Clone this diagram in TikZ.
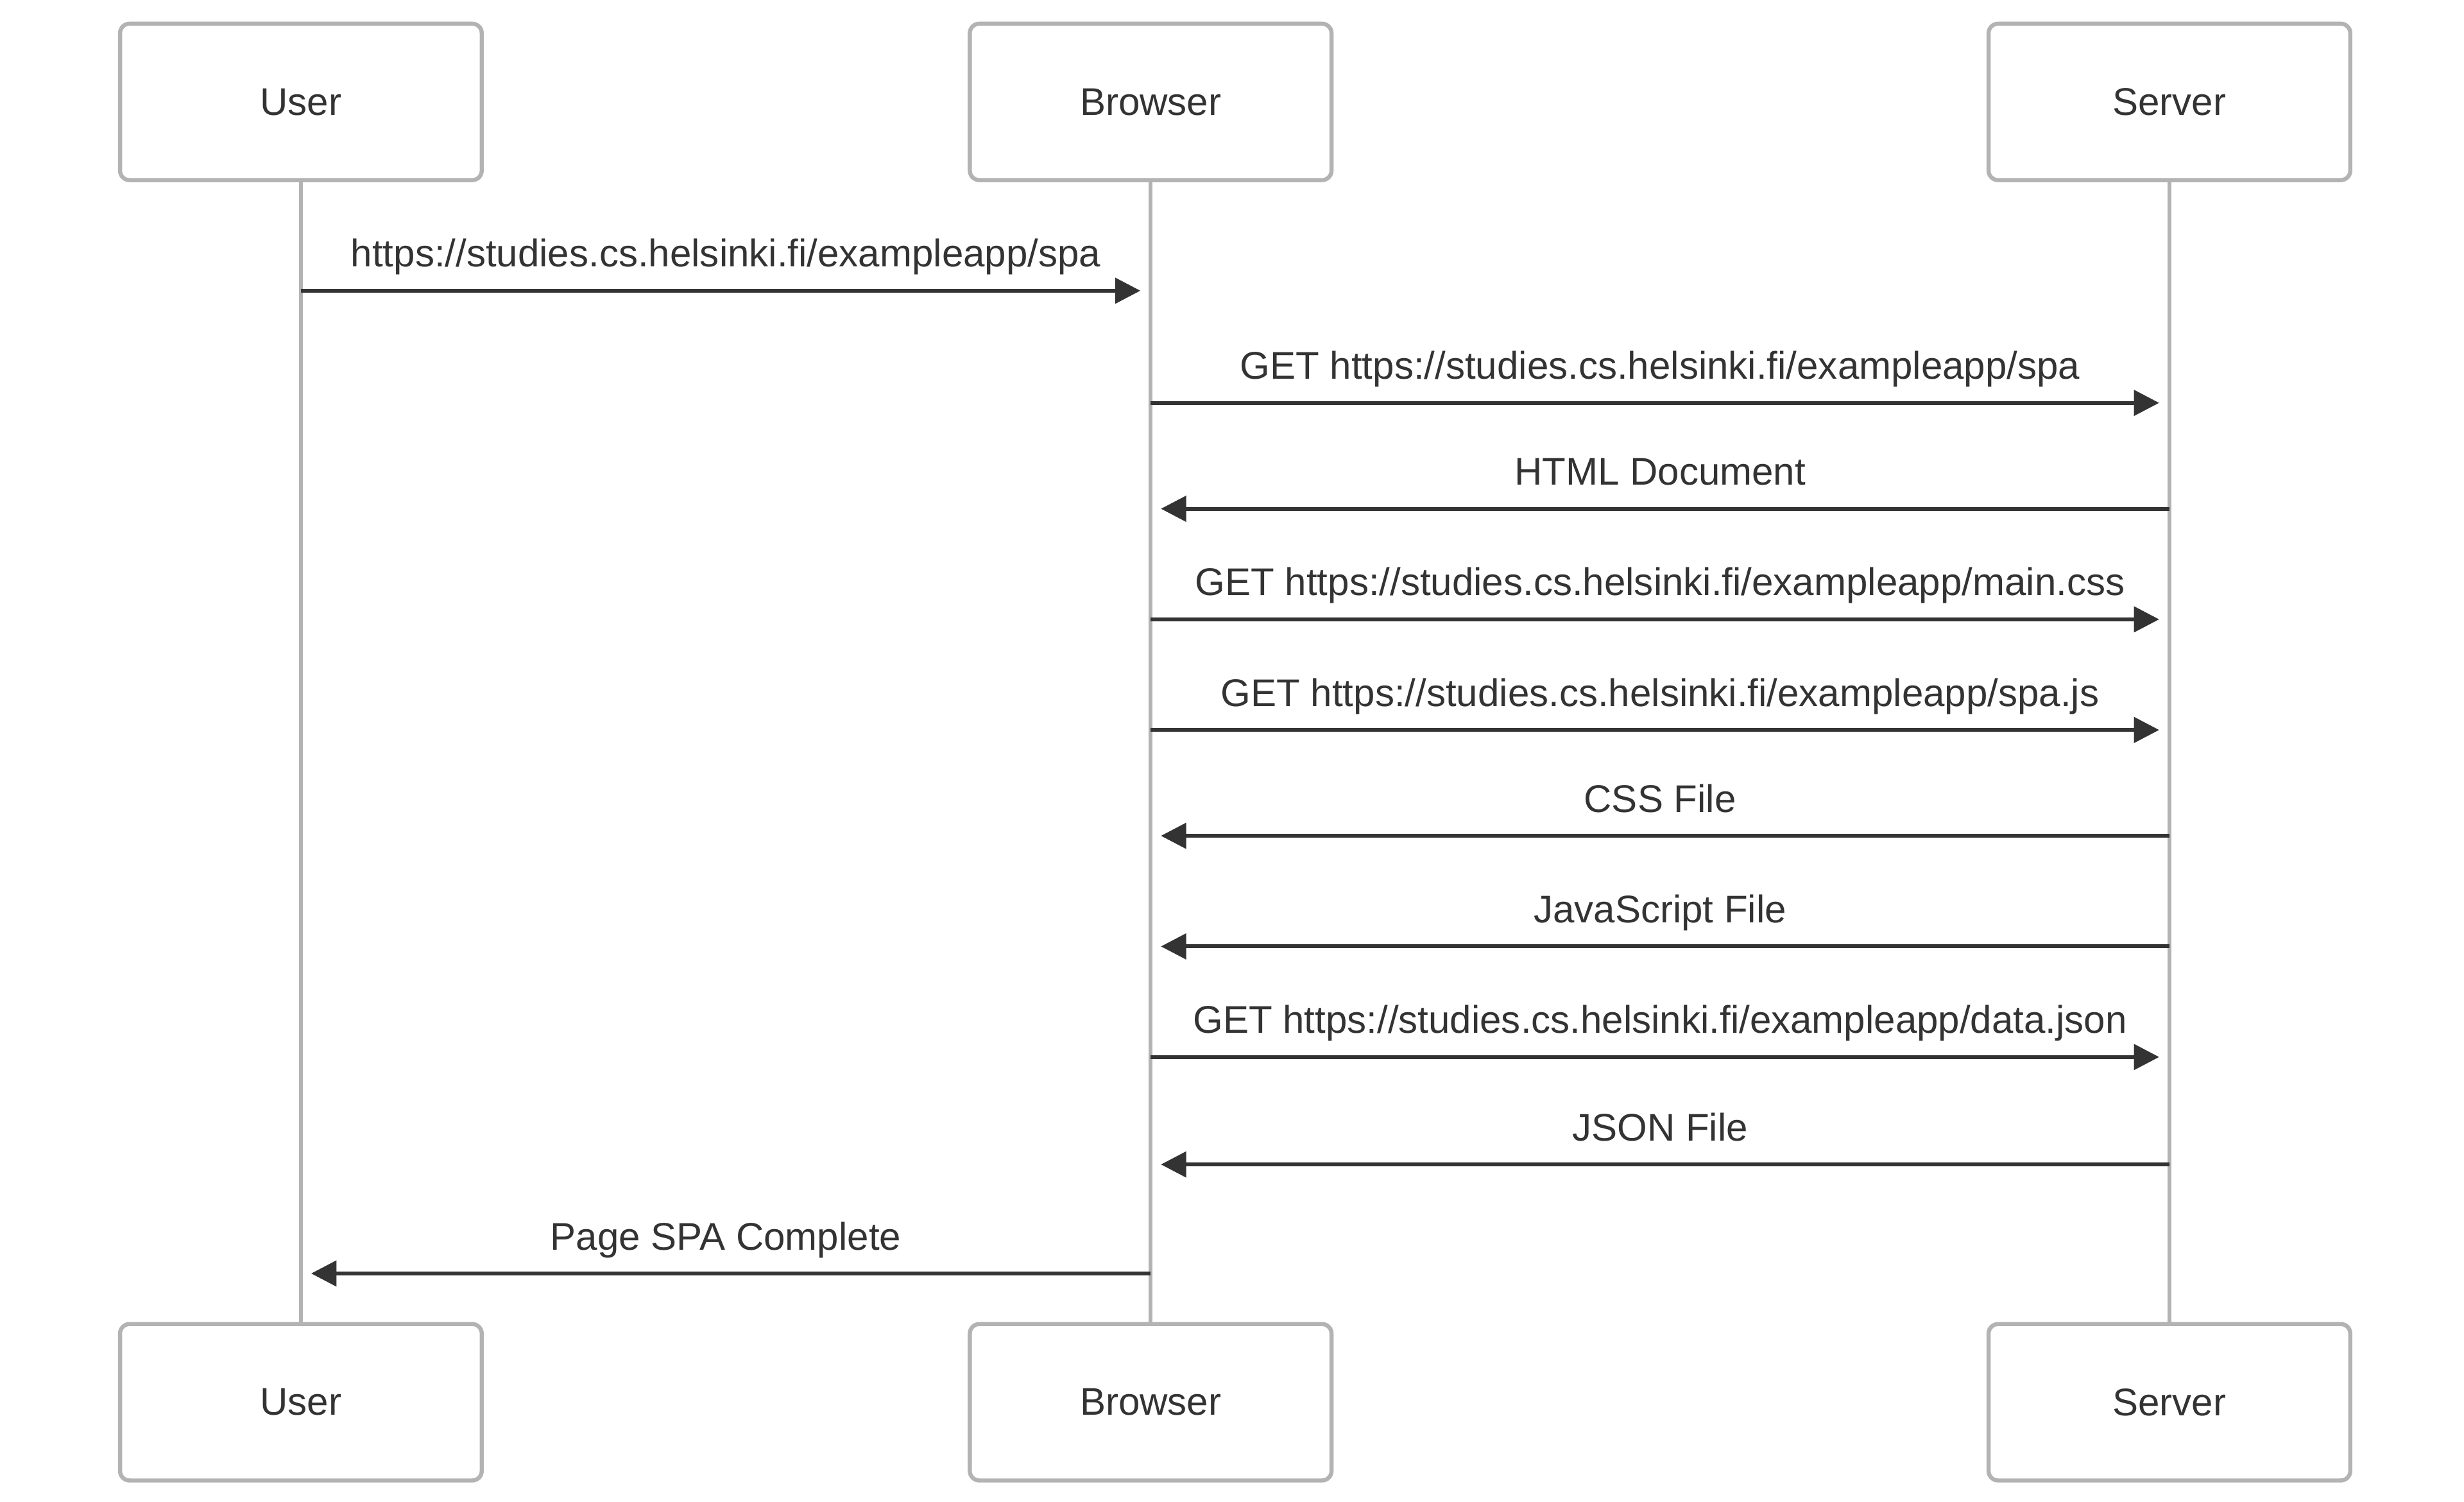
\documentclass[tikz,border=0pt]{standalone}
\usepackage{fontspec}
\setmainfont{Liberation Sans}
\usetikzlibrary{arrows.meta}
\definecolor{boxgray}{HTML}{B3B3B3}
\definecolor{ink}{HTML}{333333}

\begin{document}
\begin{tikzpicture}[x=0.5pt,y=-0.5pt,>={Triangle[length=8pt,width=8pt]},
        font=\fontsize{12.2}{14}\selectfont,text=ink]
            \tikzstyle{actor} = [draw=boxgray,line width=1.3pt,rounded corners=3pt,fill=white,
                minimum width=114.5pt,minimum height=49.5pt];
            \tikzstyle{lifeline} = [draw=boxgray,line width=1.2pt];
            \tikzstyle{msg} = [->,draw=ink,line width=1.2pt,shorten >=3.25pt];
            \tikzstyle{lbl} = [anchor=base,yshift=7.5pt,inner sep=0pt];
            \useasboundingbox (0,0) rectangle (1560,950.6);
            \node[actor] (utop) at (190.5,64.5) {User};
            \node[actor] (btop) at (728.5,64.5) {Browser};
            \node[actor] (stop) at (1373.5,64.5) {Server};
            \node[actor] (ubot) at (190.5,887.5) {User};
            \node[actor] (bbot) at (728.5,887.5) {Browser};
            \node[actor] (sbot) at (1373.5,887.5) {Server};
            \draw[lifeline] (utop) -- (ubot);
            \draw[lifeline] (btop) -- (bbot);
            \draw[lifeline] (stop) -- (sbot);
            \draw[msg] (utop |- 0,184) -- node[lbl] {https://studies.cs.helsinki.fi/exampleapp/spa} (btop |- 0,184);
            \draw[msg] (btop |- 0,255) -- node[lbl] {GET https://studies.cs.helsinki.fi/exampleapp/spa} (stop |- 0,255);
            \draw[msg] (stop |- 0,322) -- node[lbl] {HTML Document} (btop |- 0,322);
            \draw[msg] (btop |- 0,392) -- node[lbl] {GET https://studies.cs.helsinki.fi/exampleapp/main.css} (stop |- 0,392);
            \draw[msg] (btop |- 0,462) -- node[lbl] {GET https://studies.cs.helsinki.fi/exampleapp/spa.js} (stop |- 0,462);
            \draw[msg] (stop |- 0,529) -- node[lbl] {CSS File} (btop |- 0,529);
            \draw[msg] (stop |- 0,599) -- node[lbl] {JavaScript File} (btop |- 0,599);
            \draw[msg] (btop |- 0,669) -- node[lbl] {GET https://studies.cs.helsinki.fi/exampleapp/data.json} (stop |- 0,669);
            \draw[msg] (stop |- 0,737) -- node[lbl] {JSON File} (btop |- 0,737);
            \draw[msg] (btop |- 0,806) -- node[lbl] {Page SPA Complete} (utop |- 0,806);
        \end{tikzpicture}
\end{document}
